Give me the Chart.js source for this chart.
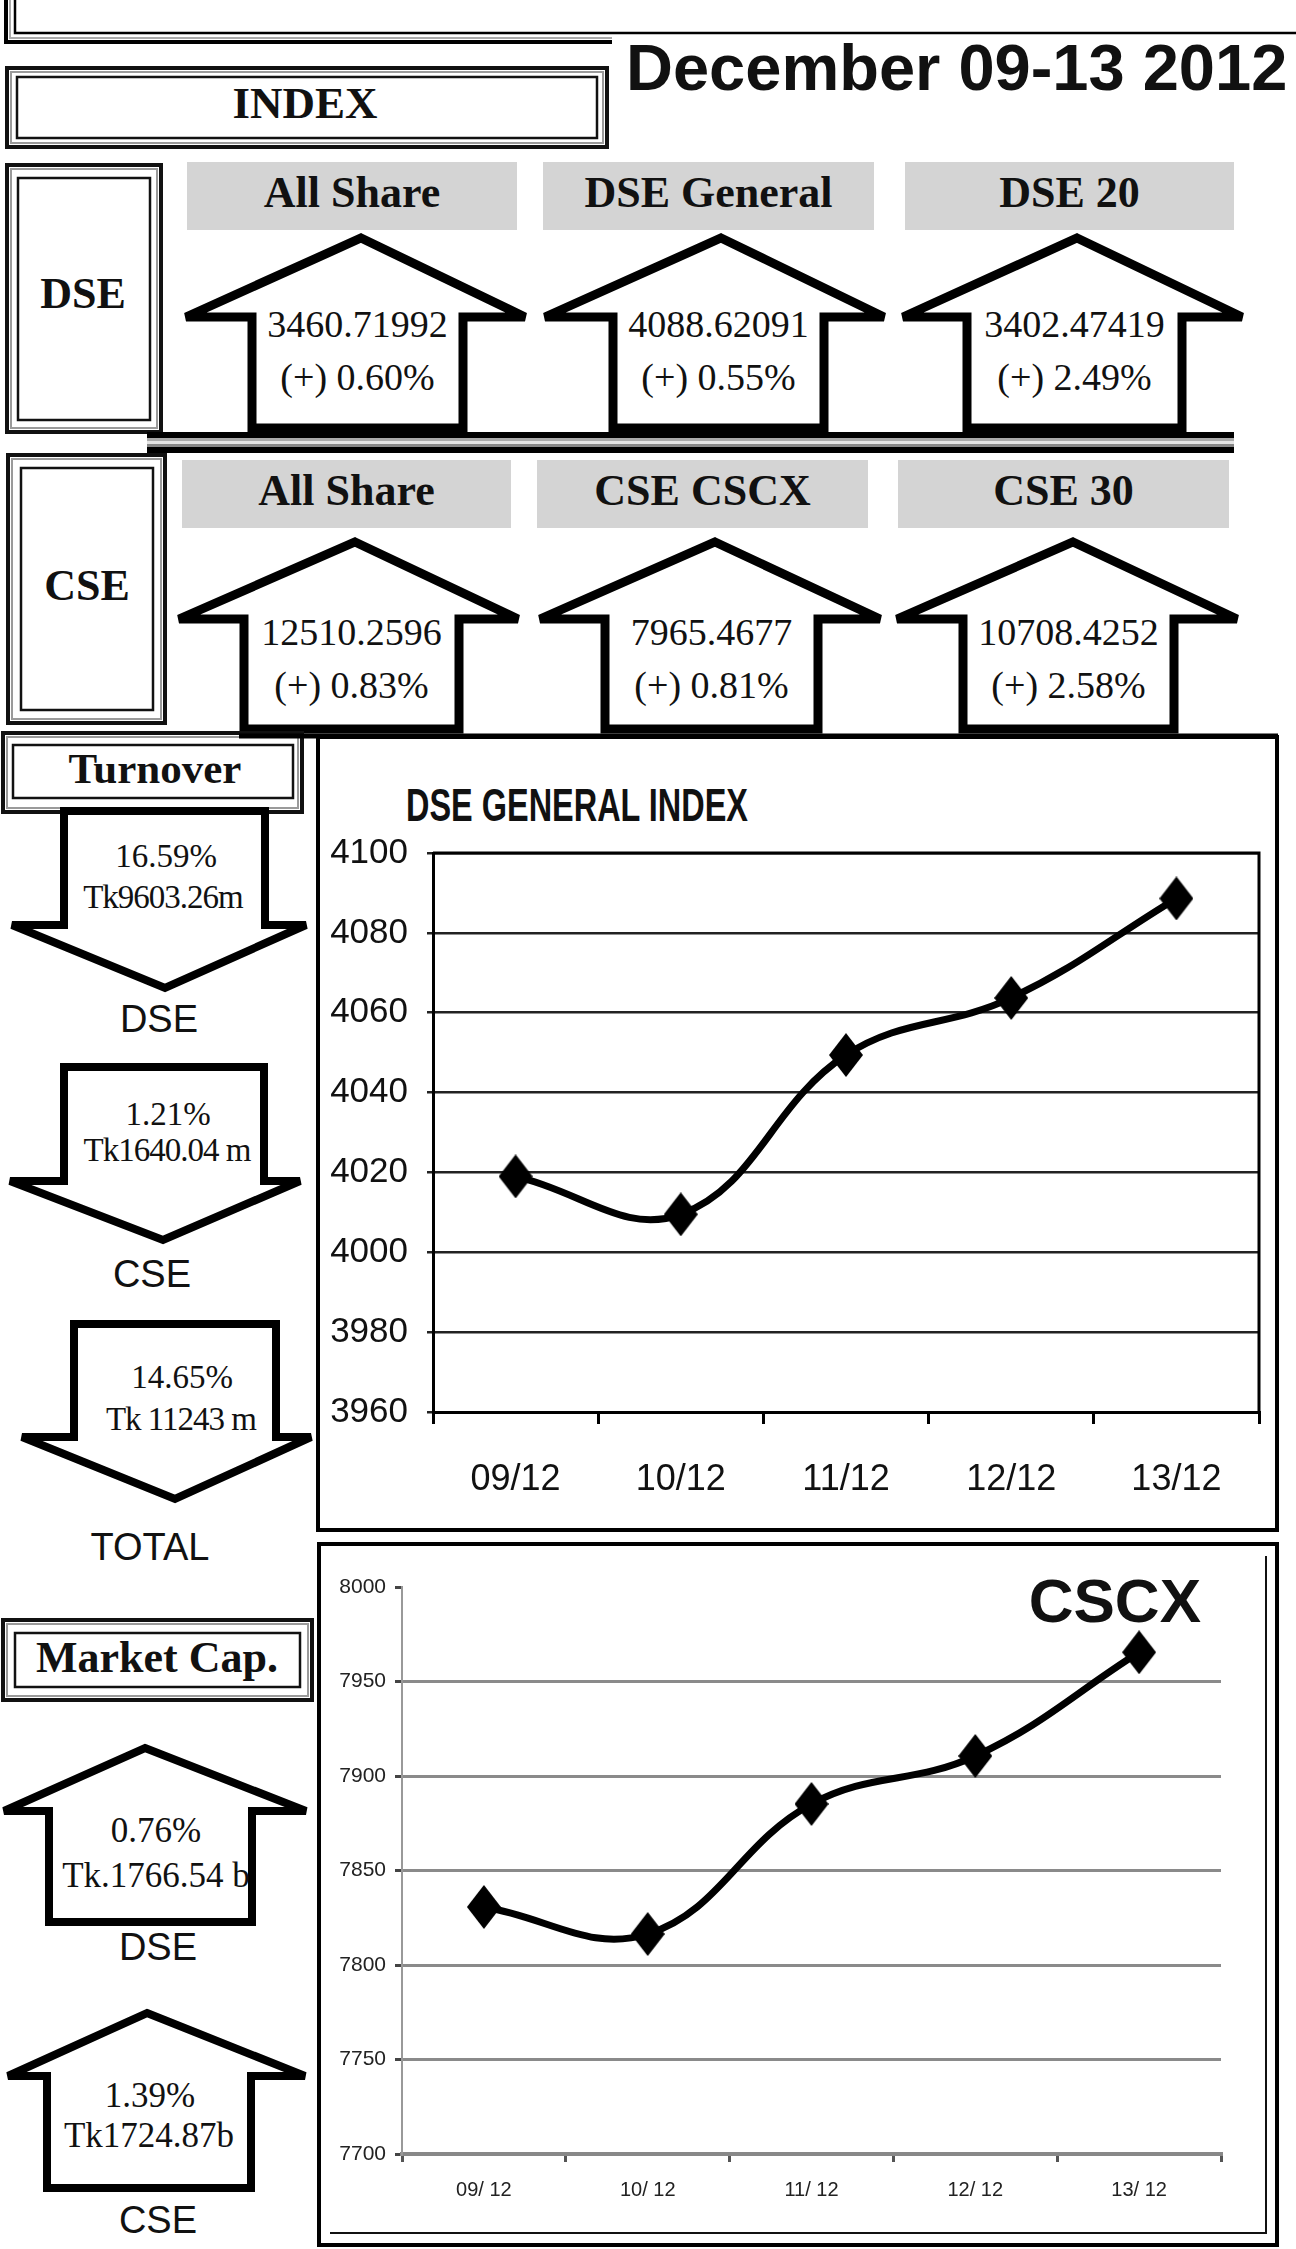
<!DOCTYPE html>
<html>
<head>
<meta charset="utf-8">
<script src="https://cdn.jsdelivr.net/npm/chart.js@4.4.1/dist/chart.umd.min.js"></script>
<style>
  html,body{margin:0;padding:0;background:#fff;}
  body{width:1296px;height:2249px;position:relative;overflow:hidden;}
  #bg{position:absolute;left:0;top:0;}
  canvas{position:absolute;}
</style>
</head>
<body>
<svg id="bg" width="1296" height="2249" xmlns="http://www.w3.org/2000/svg"></svg>
<canvas id="c1" width="950" height="690" style="left:322px;top:830px"></canvas>
<canvas id="c2" width="950" height="680" style="left:322px;top:1550px"></canvas>
<script>
// ---------------- DATA ----------------
const categories = ['09/12', '10/12', '11/12', '12/12', '13/12'];
const cscxLabels = ['09/ 12', '10/ 12', '11/ 12', '12/ 12', '13/ 12'];
const dseGeneralValues = [4019.0, 4009.5, 4049.4, 4063.7, 4088.62];
const cscxValues = [7830.7, 7816.4, 7885.2, 7910.6, 7965.47];
const dseYTicks = [3960, 3980, 4000, 4020, 4040, 4060, 4080, 4100];
const cscxYTicks = [7700, 7750, 7800, 7850, 7900, 7950, 8000];

const headline = 'December 09-13 2012';
const dseNames = ['All Share', 'DSE General', 'DSE 20'];
const dseValues = ['3460.71992', '4088.62091', '3402.47419'];
const dseChanges = ['(+) 0.60%', '(+) 0.55%', '(+) 2.49%'];
const cseNames = ['All Share', 'CSE CSCX', 'CSE 30'];
const cseValues = ['12510.2596', '7965.4677', '10708.4252'];
const cseChanges = ['(+) 0.83%', '(+) 0.81%', '(+) 2.58%'];
const turnoverPct = ['16.59%', '1.21%', '14.65%'];
const turnoverAmt = ['Tk9603.26m', 'Tk1640.04 m', 'Tk 11243 m'];
const turnoverMarkets = ['DSE', 'CSE', 'TOTAL'];
const mcapPct = ['0.76%', '1.39%'];
const mcapAmt = ['Tk.1766.54 b', 'Tk1724.87b'];
const mcapMarkets = ['DSE', 'CSE'];

// ---------------- DECORATION (SVG) ----------------
const SERIF = "'Liberation Serif','Times New Roman',serif";
const SANS = "'Liberation Sans',Arial,sans-serif";
const S = [];
const esc = s => s.replace(/&/g,'&amp;').replace(/</g,'&lt;');
const rect = (x,y,w,h,fill) => S.push(`<rect x="${x}" y="${y}" width="${w}" height="${h}" fill="${fill}"/>`);
const srect = (x1,y1,x2,y2,sw,col) => S.push(`<rect x="${x1}" y="${y1}" width="${x2-x1}" height="${y2-y1}" fill="none" stroke="${col}" stroke-width="${sw}"/>`);
const pline = (pts,sw,col) => S.push(`<polyline points="${pts.map(p=>p.join(',')).join(' ')}" fill="none" stroke="${col}" stroke-width="${sw}"/>`);
const poly = (pts,sw) => S.push(`<polygon points="${pts.map(p=>p.join(',')).join(' ')}" fill="#fff" stroke="#000" stroke-width="${sw}" stroke-linejoin="miter"/>`);
const txt = (x,y,s,fam,size,weight,anchor,extra) => S.push(`<text x="${x}" y="${y}" font-family="${fam}" font-size="${size}" font-weight="${weight||'normal'}" text-anchor="${anchor||'middle'}" fill="#111" ${extra||''}>${esc(s)}</text>`);
function dbl(ox1,oy1,ox2,oy2,ix1,iy1,ix2,iy2){
  srect(ox1,oy1,ox2,oy2,4,'#111');
  srect(ox1+4,oy1+4,ox2-4,oy2-4,2,'#9a9a9a');
  srect(ix1,iy1,ix2,iy2,2.5,'#111');
}
function upArrow(tx,ty,hy,hl,hr,sl,sr,by,sw){
  poly([[tx,ty],[hr,hy],[sr,hy],[sr,by],[sl,by],[sl,hy],[hl,hy]],sw);
}
function downArrow(top,sl,sr,hy,hl,hr,tx,ty,sw){
  poly([[sl,top],[sr,top],[sr,hy],[hr,hy],[tx,ty],[hl,hy],[sl,hy]],sw);
}

// top frame
pline([[6,0],[6,42],[612,42]],4,'#000');
pline([[10,0],[10,38],[612,38]],2,'#aaa');
pline([[15,0],[15,33],[1300,33]],2.5,'#000');
txt(626,90,headline,SANS,65,'bold','start');

// INDEX box
dbl(7,68,607,147,17,77,597,138);
txt(305,118,'INDEX',SERIF,45,'bold');

// DSE block
dbl(7,165,161,432,18,178,150,420);
txt(83,308,'DSE',SERIF,44,'bold');
const dseHdr = [[187,517],[543,874],[905,1234]];
dseHdr.forEach((h,i)=>{ rect(h[0],162,h[1]-h[0],68,'#d4d4d4'); txt((h[0]+h[1])/2,207,dseNames[i],SERIF,44,'bold'); });
const dseArr = [[361,186,525,252,463],[721,545,884,613,824],[1077,903,1242,967,1182]];
dseArr.forEach((a,i)=>{
  upArrow(a[0],238,317,a[1],a[2],a[3],a[4],428,9);
  const cx = (a[3]+a[4])/2;
  txt(cx,337,dseValues[i],SERIF,38,'normal');
  txt(cx,390,dseChanges[i],SERIF,38,'normal');
});
// separator
rect(147,432,1087,6,'#000');
rect(147,438,1087,3,'#aaa');
rect(147,441,1087,3,'#e4e4e4');
rect(147,444,1087,3,'#888');
rect(147,447,1087,6,'#000');

// CSE block
dbl(8,455,165,723,21,468,153,710);
txt(87,600,'CSE',SERIF,44,'bold');
const cseHdr = [[182,511],[537,868],[898,1229]];
cseHdr.forEach((h,i)=>{ rect(h[0],460,h[1]-h[0],68,'#d4d4d4'); txt((h[0]+h[1])/2,505,cseNames[i],SERIF,44,'bold'); });
const cseArr = [[355,179,518,244,459],[715,540,880,605,818],[1073,897,1237,963,1174]];
cseArr.forEach((a,i)=>{
  upArrow(a[0],542,619,a[1],a[2],a[3],a[4],729,9);
  const cx = (a[3]+a[4])/2;
  txt(cx,645,cseValues[i],SERIF,38,'normal');
  txt(cx,698,cseChanges[i],SERIF,38,'normal');
});

// Turnover
dbl(3,733,302,812,13,745,293,798);
txt(155,783,'Turnover',SERIF,43,'bold');
const tArr = [[811,64,265,925,12,306,165,988],[1067,64,264,1181,10,300,163,1240],[1324,74,276,1437,22,311,175,1499]];
const tTxt = [[166,867,163,908],[168,1125,167,1161],[182,1388,181,1430]];
const tLab = [[159,1032],[152,1287],[150,1560]];
tArr.forEach((a,i)=>{
  downArrow(a[0],a[1],a[2],a[3],a[4],a[5],a[6],a[7],8);
  txt(tTxt[i][0],tTxt[i][1],turnoverPct[i],SERIF,33,'normal');
  txt(tTxt[i][2],tTxt[i][3],turnoverAmt[i],SERIF,33,'normal','middle','letter-spacing="-1"');
  txt(tLab[i][0],tLab[i][1],turnoverMarkets[i],SANS,38,'normal');
});

// Market cap
dbl(3,1620,312,1700,15,1633,300,1687);
txt(157,1672,'Market Cap.',SERIF,44,'bold');
const mArr = [[145,1748,1811,4,306,49,252,1922],[147,2013,2076,8,305,47,251,2188]];
const mTxt = [[156,1842,156,1887],[150,2107,149,2147]];
const mLab = [[158,1960],[158,2233]];
mArr.forEach((a,i)=>{
  upArrow(a[0],a[1],a[2],a[3],a[4],a[5],a[6],a[7],8);
  txt(mTxt[i][0],mTxt[i][1],mcapPct[i],SERIF,35,'normal');
  txt(mTxt[i][2],mTxt[i][3],mcapAmt[i],SERIF,35,'normal');
  txt(mLab[i][0],mLab[i][1],mcapMarkets[i],SANS,38,'normal');
});

// chart frames
pline([[239,736],[1278,736]],5,'#000');
srect(318,737,1277,1530,4,'#000');
srect(319,1544,1277,2245,4,'#000');
pline([[1266,1556],[1266,2233],[330,2233]],2,'#111');
txt(406,821,'DSE GENERAL INDEX',SANS,46,'bold','start','textLength="342" lengthAdjust="spacingAndGlyphs"');
txt(1201,1622,'CSCX',SANS,62,'bold','end');

document.getElementById('bg').innerHTML = S.join('');

// ---------------- CHARTS ----------------
function hasFont(name){
  const g = document.createElement('canvas').getContext('2d');
  const probe = '09/12 DSE GENERAL 7700';
  g.font = '40px monospace'; const a = g.measureText(probe).width;
  g.font = `40px "${name}", monospace`; const b = g.measureText(probe).width;
  return Math.abs(a-b) > 0.5;
}
const narrow = hasFont('Liberation Sans Narrow');
const REG = '"Liberation Sans", Arial, sans-serif';
const NAR = '"Liberation Sans Narrow", "Liberation Sans", Arial, sans-serif';

function diamond(w,h){
  const c = document.createElement('canvas'); c.width = w; c.height = h;
  const g = c.getContext('2d'); g.fillStyle = '#000';
  g.beginPath(); g.moveTo(w/2,0); g.lineTo(w,h/2); g.lineTo(w/2,h); g.lineTo(0,h/2); g.closePath(); g.fill();
  return c;
}
const marker = diamond(34,44);
const plain = v => String(v);

const plotBox = {
  id:'plotBox',
  beforeDatasetsDraw(chart){
    const {ctx, chartArea:a} = chart;
    ctx.save(); ctx.strokeStyle = '#000'; ctx.lineWidth = 3;
    ctx.beginPath(); ctx.moveTo(a.left,a.top); ctx.lineTo(a.right,a.top); ctx.lineTo(a.right,a.bottom); ctx.stroke();
    ctx.restore();
  }
};
function fixX(h){ return s => { s.height = h; s.paddingLeft = 0; s.paddingRight = 0; s.paddingTop = 0; s.paddingBottom = 0; }; }
function fixY(w){ return s => { s.width = w; s.paddingLeft = 0; s.paddingRight = 0; s.paddingTop = 0; s.paddingBottom = 0; }; }

const x1Font = narrow ? {family:NAR,size:43} : {family:REG,size:36};
const x1Pad = narrow ? 30 : 34;
new Chart(document.getElementById('c1'), {
  type:'line',
  data:{labels:categories, datasets:[{data:dseGeneralValues, borderColor:'#000', backgroundColor:'#000', borderWidth:7, tension:0.4, pointStyle:marker, pointRadius:17, fill:false, clip:false}]},
  options:{
    responsive:false, animation:false, devicePixelRatio:1,
    layout:{autoPadding:false, padding:{left:0,right:13,top:23,bottom:0}},
    plugins:{legend:{display:false}, tooltip:{enabled:false}},
    scales:{
      x:{offset:true,
         grid:{offset:true, drawOnChartArea:false, drawTicks:true, tickLength:12, color:'#000', lineWidth:3},
         border:{display:true, color:'#000', width:3},
         ticks:{font:x1Font, color:'#111', padding:x1Pad, maxRotation:0, autoSkip:false},
         afterFit:fixX(108)},
      y:{min:dseYTicks[0], max:dseYTicks[dseYTicks.length-1],
         ticks:{stepSize:dseYTicks[1]-dseYTicks[0], font:{family:REG,size:35}, color:'#111', padding:19, callback:plain},
         grid:{color:'#222', lineWidth:2.5, tickLength:6},
         border:{display:true, color:'#000', width:3},
         afterFit:fixY(111)}
    }
  },
  plugins:[plotBox]
});

const x2Font = narrow ? {family:NAR,size:24} : {family:REG,size:20};
const x2Pad = narrow ? 14 : 16;
const top2 = cscxYTicks[cscxYTicks.length-1];
new Chart(document.getElementById('c2'), {
  type:'line',
  data:{labels:cscxLabels, datasets:[{data:cscxValues, borderColor:'#000', backgroundColor:'#000', borderWidth:7, tension:0.4, pointStyle:marker, pointRadius:17, fill:false, clip:false}]},
  options:{
    responsive:false, animation:false, devicePixelRatio:1,
    layout:{autoPadding:false, padding:{left:0,right:51,top:37,bottom:0}},
    plugins:{legend:{display:false}, tooltip:{enabled:false}},
    scales:{
      x:{offset:true,
         grid:{offset:true, drawOnChartArea:false, drawTicks:true, tickLength:8, color:'#555', lineWidth:3},
         border:{display:true, color:'#888', width:4},
         ticks:{font:x2Font, color:'#222', padding:x2Pad, maxRotation:0, autoSkip:false},
         afterFit:fixX(76)},
      y:{min:cscxYTicks[0], max:top2,
         ticks:{stepSize:cscxYTicks[1]-cscxYTicks[0], font:{family:REG,size:21}, color:'#222', padding:9, callback:plain},
         grid:{color:c=>(c.tick && c.tick.value===top2)?'rgba(0,0,0,0)':'#8a8a8a', tickColor:'#444', lineWidth:3, tickLength:7},
         border:{display:true, color:'#999', width:2},
         afterFit:fixY(80)}
    }
  }
});
</script>
</body>
</html>
